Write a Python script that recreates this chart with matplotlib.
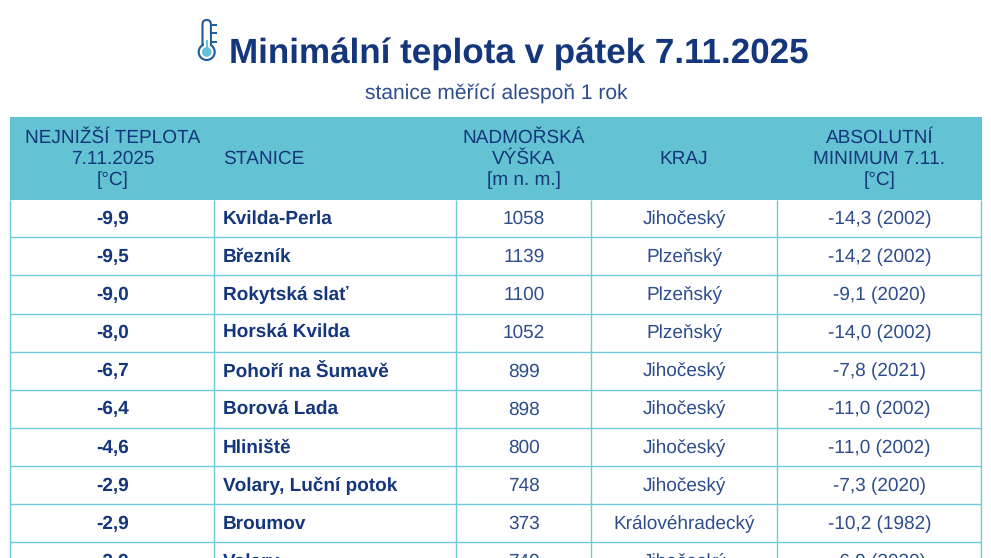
import matplotlib
matplotlib.use("Agg")
import matplotlib.pyplot as plt
from matplotlib.patches import Rectangle, Circle, FancyBboxPatch

plt.rcParams['font.family'] = ['Liberation Sans', 'DejaVu Sans']
plt.rcParams['text.hinting'] = 'none'
plt.rcParams['text.hinting_factor'] = 1

title = "Minimální teplota v pátek 7.11.2025"
subtitle = "stanice měřící alespoň 1 rok"
headers = ["NEJNIŽŠÍ TEPLOTA\n7.11.2025\n[°C]", "STANICE", "NADMOŘSKÁ\nVÝŠKA\n[m n. m.]", "KRAJ", "ABSOLUTNÍ\nMINIMUM 7.11.\n[°C]"]
temps = ["-9,9", "-9,5", "-9,0", "-8,0", "-6,7", "-6,4", "-4,6", "-2,9", "-2,9", "-2,9"]
stations = ["Kvilda-Perla", "Březník", "Rokytská slať", "Horská Kvilda", "Pohoří na Šumavě",
            "Borová Lada", "Hliniště", "Volary, Luční potok", "Broumov", "Volary"]
heights = ["1058", "1139", "1100", "1052", "899", "898", "800", "748", "373", "749"]
regions = ["Jihočeský", "Plzeňský", "Plzeňský", "Plzeňský", "Jihočeský", "Jihočeský",
           "Jihočeský", "Jihočeský", "Královéhradecký", "Jihočeský"]
records = ["-14,3 (2002)", "-14,2 (2002)", "-9,1 (2020)", "-14,0 (2002)", "-7,8 (2021)",
           "-11,0 (2002)", "-11,0 (2002)", "-7,3 (2020)", "-10,2 (1982)", "-6,9 (2020)"]

W, H = 991, 558
NAVY = "#14367c"
BODY = "#2e4d8c"
TEAL = "#64c3d2"
LINE = "#6fcbdc"
px = 72 / 100

fig = plt.figure(figsize=(W / 100, H / 100), dpi=100, facecolor="white")
ax = fig.add_axes([0, 0, 1, 1])
ax.set_xlim(0, W)
ax.set_ylim(H, 0)
ax.axis("off")

col_edges = [10.5, 214.5, 456.5, 591.5, 777.5, 981.5]
line_edges = [x - 0.6 for x in col_edges]
head_top, head_bot = 117, 200
row_h = 38.15
centers = [112.5, None, 524, 684, 879.5]
left_x = 223

ax.add_patch(Rectangle((col_edges[0] - 0.5, head_top), col_edges[-1] - col_edges[0] + 1, head_bot - head_top,
                       fc=TEAL, ec="none", zorder=1))
n = len(temps)
for i in range(1, n + 1):
    y = head_bot + i * row_h - 0.9
    if y < H:
        ax.plot([line_edges[0], line_edges[-1]], [y, y], color=LINE, lw=1.0, zorder=2, solid_capstyle="butt")
for x in line_edges:
    ax.plot([x, x], [head_bot, H], color=LINE, lw=1.0, zorder=2, solid_capstyle="butt")

fs = 18.7 * px
hfs = 18.7 * px
for j, h in enumerate(headers):
    lines = h.split("\n")
    for k, line in enumerate(lines):
        y = 163.6 + (k - (len(lines) - 1) / 2) * 21
        if j == 1:
            ax.text(left_x, y, line, fontsize=hfs, color=NAVY, ha="left", va="baseline", zorder=3)
        else:
            ax.text(centers[j], y, line, fontsize=hfs, color=NAVY, ha="center", va="baseline", zorder=3)

for i in range(n):
    y = head_bot + (i + 0.5) * row_h + 4.7
    ax.text(centers[0], y, temps[i], fontsize=fs, color=NAVY, fontweight="bold", ha="center", va="baseline", zorder=3, clip_on=True)
    ax.text(left_x, y, stations[i], fontsize=fs, color=NAVY, fontweight="bold", ha="left", va="baseline", zorder=3, clip_on=True)
    ax.text(centers[2], y, heights[i], fontsize=fs, color=BODY, ha="center", va="baseline", zorder=3, clip_on=True)
    ax.text(centers[3], y, regions[i], fontsize=fs, color=BODY, ha="center", va="baseline", zorder=3, clip_on=True)
    ax.text(centers[4], y, records[i], fontsize=fs, color=BODY, ha="center", va="baseline", zorder=3, clip_on=True)

ax.text(519, 63, title, fontsize=34.7 * px, fontweight="bold", color=NAVY, ha="center", va="baseline")
ax.text(496, 99, subtitle, fontsize=20.8 * px, color=BODY, ha="center", va="baseline")

# thermometer icon
icon = "#1d5a9e"
ax.add_patch(FancyBboxPatch((202.5, 20), 8.4, 30, boxstyle="round,pad=0,rounding_size=4.2", fc="white", ec=icon, lw=1.5, zorder=4))
ax.add_patch(Circle((206.7, 52), 8, fc="white", ec=icon, lw=1.5, zorder=5))
ax.add_patch(Rectangle((203.6, 36), 6.2, 12, fc="white", ec="none", zorder=6))
ax.add_patch(Circle((206.7, 52), 4.8, fc=TEAL, ec="none", zorder=7))
ax.add_patch(Rectangle((205.7, 40), 2, 10, fc=TEAL, ec="none", zorder=7))
for yy in (25, 33, 41.5):
    ax.plot([210, 216.5], [yy, yy], color=icon, lw=1.4, zorder=4, solid_capstyle="butt")

fig.savefig("out.png", dpi=100)
